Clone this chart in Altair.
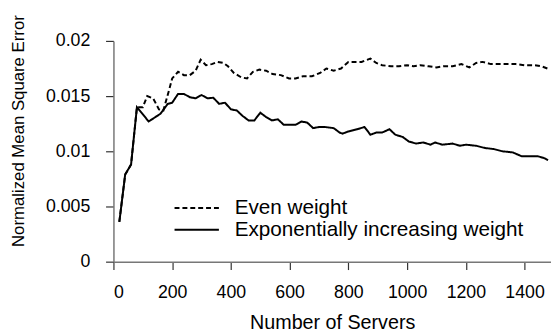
import altair as alt
import pandas as pd

series_names = ["Even weight", "Exponentially increasing weight"]

even_x = [20, 40, 60, 80, 100, 115, 135, 155, 170, 190, 200, 220, 240, 260, 280, 297, 315, 335, 355, 375,
          390, 410, 435, 455, 475, 497, 520, 542, 570, 598, 620, 645, 676, 704, 725, 750, 775, 800, 822, 845,
          875, 895, 915, 945, 972, 1000, 1022, 1045, 1073, 1100, 1123, 1155, 1185, 1212, 1235, 1257, 1285, 1313,
          1341, 1370, 1400, 1435, 1458, 1478]
even_y = [0.0036, 0.0079, 0.0088, 0.0140, 0.0140, 0.0150, 0.0148, 0.0138, 0.0137, 0.0156, 0.0166, 0.0172,
          0.0169, 0.0169, 0.0173, 0.0183, 0.0178, 0.0179, 0.0181, 0.0180, 0.0177, 0.0171, 0.0167, 0.0166,
          0.0172, 0.0174, 0.0173, 0.0170, 0.0169, 0.0166, 0.0166, 0.0168, 0.0168, 0.0171, 0.0175, 0.0173,
          0.0175, 0.0181, 0.0181, 0.0181, 0.0184, 0.0180, 0.0178, 0.0177, 0.0177, 0.0178, 0.0177, 0.0178,
          0.0177, 0.0176, 0.0177, 0.0177, 0.0179, 0.0176, 0.0180, 0.0181, 0.0179, 0.0179, 0.0179, 0.0179,
          0.0178, 0.0178, 0.0177, 0.0175]

exp_x = [20, 40, 60, 80, 120, 160, 185, 200, 220, 240, 260, 280, 300, 320, 340, 360, 380, 400, 420, 440,
         460, 480, 500, 520, 540, 560, 580, 600, 620, 640, 660, 680, 700, 720, 750, 770, 780, 800, 830, 855,
         875, 895, 915, 940, 960, 985, 1005, 1030, 1055, 1080, 1095, 1120, 1155, 1180, 1200, 1235, 1265, 1295,
         1325, 1360, 1390, 1420, 1445, 1465, 1480]
exp_y = [0.0036, 0.0079, 0.0088, 0.0140, 0.0127, 0.0134, 0.0143, 0.0144, 0.0152, 0.0152, 0.0149, 0.0148,
         0.0151, 0.0148, 0.01485, 0.0143, 0.0144, 0.0138, 0.0137, 0.0132, 0.0128, 0.0128, 0.0135, 0.0131,
         0.0128, 0.0129, 0.0124, 0.0124, 0.0124, 0.0127, 0.0126, 0.0121, 0.0122, 0.0122, 0.0121, 0.0117,
         0.0116, 0.0118, 0.0120, 0.0122, 0.0115, 0.0117, 0.0117, 0.0120, 0.0115, 0.0113, 0.0109, 0.0107,
         0.0108, 0.0106, 0.0108, 0.0106, 0.0107, 0.0105, 0.0106, 0.0105, 0.0103, 0.0102, 0.0100, 0.0099,
         0.00955, 0.00955, 0.00955, 0.0094, 0.0092]

x_ticks = [0, 200, 400, 600, 800, 1000, 1200, 1400]
y_ticks = [0, 0.005, 0.01, 0.015, 0.02]

df = pd.concat([
    pd.DataFrame({"servers": even_x, "nmse": even_y, "series": series_names[0]}),
    pd.DataFrame({"servers": exp_x, "nmse": exp_y, "series": series_names[1]}),
])

FONT = "Liberation Sans"

chart = alt.Chart(df).mark_line(color="black", strokeWidth=2).encode(
    x=alt.X("servers:Q",
            scale=alt.Scale(domain=[0, 1490], nice=False),
            axis=alt.Axis(title="Number of Servers", values=x_ticks, format="d")),
    y=alt.Y("nmse:Q",
            scale=alt.Scale(domain=[0, 0.02], nice=False),
            axis=alt.Axis(title="Normalized Mean Square Error", values=y_ticks, format="~f",
                          titleX=-96, titleY=91, titleAngle=270, titleBaseline="middle",
                          titleAlign="center", labelPadding=16, titleFontSize=17)),
    strokeDash=alt.StrokeDash("series:N",
                              scale=alt.Scale(domain=series_names, range=[[5, 3], [1, 0]]),
                              legend=alt.Legend(title=None, orient="none", legendX=74, legendY=159,
                                                symbolType="M-2.5,0H2.5", symbolSize=324,
                                                symbolStrokeWidth=2, symbolStrokeColor="black",
                                                labelOffset=28, labelFontSize=21, labelLimit=400,
                                                labelFont=FONT, labelColor="black", rowPadding=0,
                                                padding=0)),
).properties(
    width=444, height=224,
    autosize=alt.AutoSizeParams(type="none"),
    padding={"left": 107, "top": 31, "right": 0, "bottom": 72},
).configure_view(stroke=None).configure_axis(
    grid=False, labelFont=FONT, titleFont=FONT, labelFontSize=18, titleFontSize=18,
    titleFontWeight="normal", labelColor="black", titleColor="black",
    domainColor="#777", domainWidth=1.5, tickColor="#333", tickSize=8, tickWidth=1.2,
).configure_axisX(labelPadding=14, titlePadding=12, titleFontSize=20)

chart.save("out.html", embed_options={"renderer": "svg", "actions": False})
